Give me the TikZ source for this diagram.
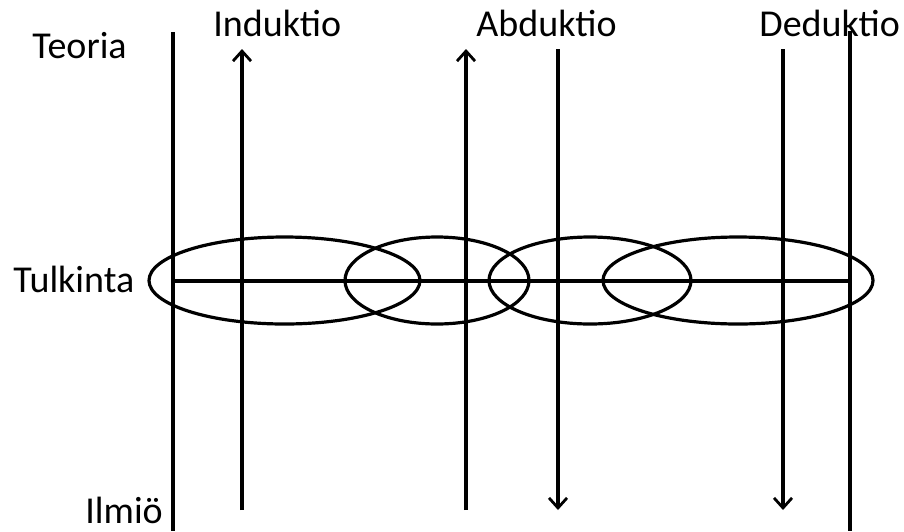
\documentclass[tikz,border=0pt]{standalone}
\usepackage{fontspec}
\setmainfont{Carlito}
\usetikzlibrary{arrows.meta,shapes.geometric}

\begin{document}
\begin{tikzpicture}[
    x=0.5pt,y=-0.5pt,
    lbl/.style={font=\fontsize{19}{22}\selectfont,inner sep=0pt},
    axis/.style={draw=black,line width=1.6pt},
    ring/.style={ellipse,draw=black,line width=1.6pt,inner sep=0pt,minimum height=43.5pt},
    infer/.style={-{Straight Barb[length=5pt,width=9pt,line width=1.4pt]},draw=black,line width=1.6pt}
  ]
    \useasboundingbox (0,0) rectangle (904,531);
    % tasot
    \node[lbl,anchor=base west] (teoria) at (32,58) {Teoria};
    \node[lbl,anchor=base west] (tulkinta) at (13,292) {Tulkinta};
    \node[lbl,anchor=base west] (ilmio) at (85,523) {Ilmiö};
    % päättelytavat
    \node[lbl,anchor=base west] (induktio) at (213,36) {Induktio};
    \node[lbl,anchor=base west] (abduktio) at (476,36) {Abduktio};
    \node[lbl,anchor=base west] (deduktio) at (759,36) {Deduktio};
    % rajaviivat
    \coordinate (vasYla) at (173,32);
    \coordinate (vasAla) at (173,531);
    \coordinate (oikYla) at (850,31);
    \coordinate (oikAla) at (850,531);
    \coordinate (tulkA) at (173,281);
    \coordinate (tulkB) at (850,281);
    \draw[axis] (vasYla) -- (vasAla);
    \draw[axis] (oikYla) -- (oikAla);
    \draw[axis] (tulkA) -- (tulkB);
    % tulkinnan kehät
    \node[ring,minimum width=135.5pt] (keha1) at (284.5,280.5) {};
    \node[ring,minimum width=92pt] (keha2) at (437,280.5) {};
    \node[ring,minimum width=101pt] (keha3) at (590,280.5) {};
    \node[ring,minimum width=135pt] (keha4) at (738,280.5) {};
    % nuolet
    \coordinate (indAla) at (242,510);
    \coordinate (indYla) at (242,49);
    \coordinate (abdAla) at (466,510);
    \coordinate (abdYla) at (466,49);
    \coordinate (abd2Yla) at (558,49);
    \coordinate (abd2Ala) at (558,510);
    \coordinate (dedYla) at (783,49);
    \coordinate (dedAla) at (783,510);
    \draw[infer] (indAla) -- (indYla);
    \draw[infer] (abdAla) -- (abdYla);
    \draw[infer] (abd2Yla) -- (abd2Ala);
    \draw[infer] (dedYla) -- (dedAla);
  \end{tikzpicture}
\end{document}
